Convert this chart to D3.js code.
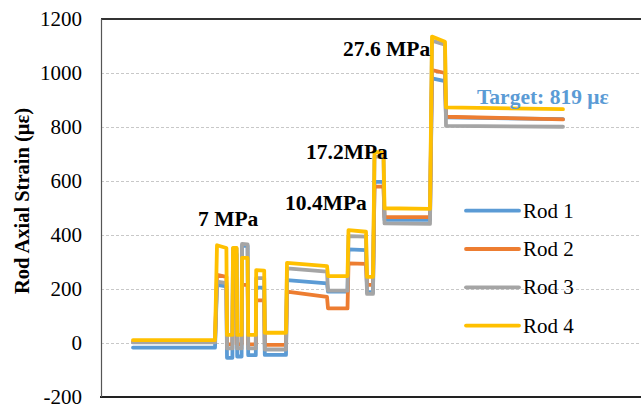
<!DOCTYPE html>
<html><head><meta charset="utf-8">
<script src="https://cdn.jsdelivr.net/npm/d3@7"></script>
<style>html,body{margin:0;padding:0;background:#fff;}svg{display:block;}</style>
</head><body>
<svg id="chart" width="641" height="407"></svg>
<script>
// ---- data (time in minutes, strain in με) ----
const segTimes = [[16,57],[58,62.7],[63,65.7],[66,67.8],[68.1,70.3],[70.5,73.3],[73.6,77.4],[77.6,81.6],[81.9,92.5],
  [93,113],[113.5,123.25],[123.75,132.5],[133,136],[136.75,141.25],[141.75,164.5],[165.5,172],[172.5,231]];
const rod1 = [[-17,-17],[215,210],[-55,-55],[330,330],[-50,-50],[360,360],[-45,-45],[205,205],[-44,-44],[233,221],[190,190],[347,344],[188,188],[597,597],[456,456],[980,970],[836,829]];
const rod2 = [[5,5],[252,245],[-5,-5],[240,240],[-5,-5],[215,215],[-5,-5],[158,158],[-7,-7],[190,171],[128,128],[295,293],[215,215],[579,579],[466,466],[1011,1000],[838,828]];
const rod3 = [[2,2],[227,222],[-20,-20],[350,350],[-20,-20],[367,365],[-20,-20],[240,240],[-24,-24],[276,264],[194,194],[396,394],[182,182],[690,690],[443,441],[1120,1105],[804,801]];
const rod4 = [[11,11],[362,352],[30,30],[352,352],[30,30],[315,315],[30,30],[270,268],[38,38],[297,285],[248,248],[418,412],[245,245],[708,705],[499,497],[1135,1116],[873,866]];
const seriesNames = ["Rod 1","Rod 2","Rod 3","Rod 4"];
const seriesColors = ["#5B9BD5","#ED7D31","#A5A5A5","#FFC000"];
const yTicks = [-200,0,200,400,600,800,1000,1200];
const annotations = [
  {text:"7 MPa", t:48.5, v:432},
  {text:"10.4MPa", t:92, v:492},
  {text:"17.2MPa", t:102.5, v:681},
  {text:"27.6 MPa", t:121, v:1064}
];
const targetLabel = {text:"Target: 819 με", t:188, v:887};

// ---- layout ----
const svg = d3.select("#chart");
const font = "'Liberation Serif','Times New Roman',serif";
const x = d3.scaleLinear().domain([0,270]).range([101,641]);
const y = d3.scaleLinear().domain([-200,1200]).range([397,19]);

// gridlines
svg.append("g").selectAll("line").data(yTicks.filter(d=>d>-200 && d<1200)).join("line")
  .attr("x1",101).attr("x2",641).attr("y1",d=>y(d)+0.5).attr("y2",d=>y(d)+0.5)
  .attr("stroke","#c8c8c8").attr("stroke-width",1).attr("stroke-dasharray","3,2");
// top and bottom lines
svg.append("line").attr("x1",101).attr("x2",641).attr("y1",y(1200)).attr("y2",y(1200))
  .attr("stroke","#333").attr("stroke-width",2);
svg.append("line").attr("x1",100).attr("x2",641).attr("y1",y(-200)).attr("y2",y(-200))
  .attr("stroke","#222").attr("stroke-width",2);
// left axis
svg.append("line").attr("x1",101.5).attr("x2",101.5).attr("y1",y(1200)).attr("y2",y(-200))
  .attr("stroke","#555").attr("stroke-width",1.2);

// tick labels
svg.append("g").selectAll("text").data(yTicks).join("text")
  .attr("x",82).attr("y",d=>y(d)).attr("dy","0.35em").attr("text-anchor","end")
  .attr("font-family",font).attr("font-size",21).attr("fill","#000").text(d=>d);

// axis title
svg.append("text").attr("transform","translate(29,201) rotate(-90)")
  .attr("text-anchor","middle").attr("font-family",font).attr("font-weight","bold")
  .attr("font-size",20.5).attr("fill","#000").text("Rod Axial Strain (με)");

// series
function toPoints(vals){
  const pts=[];
  vals.forEach((v,i)=>{pts.push([segTimes[i][0],v[0]]);pts.push([segTimes[i][1],v[1]]);});
  return pts;
}
const line = d3.line().x(d=>x(d[0])).y(d=>y(d[1]));
[rod1,rod2,rod3,rod4].forEach((s,i)=>{
  svg.append("path").datum(toPoints(s)).attr("d",line).attr("fill","none")
    .attr("stroke",seriesColors[i]).attr("stroke-width",3.8)
    .attr("stroke-linejoin","round").attr("stroke-linecap","round");
});

// annotations
svg.append("g").selectAll("text").data(annotations).join("text")
  .attr("x",d=>x(d.t)).attr("y",d=>y(d.v)).attr("font-family",font)
  .attr("font-weight","bold").attr("font-size",21.5).attr("fill","#000").text(d=>d.text);
svg.append("text").attr("x",x(targetLabel.t)).attr("y",y(targetLabel.v))
  .attr("font-family",font).attr("font-weight","bold").attr("font-size",21.5)
  .attr("fill","#5B9BD5").text(targetLabel.text);

// legend
const lg = svg.append("g").selectAll("g").data(seriesNames).join("g")
  .attr("transform",(d,i)=>`translate(466,${210.7+i*38.3})`);
lg.append("line").attr("x1",0).attr("x2",53).attr("stroke",(d,i)=>seriesColors[i])
  .attr("stroke-width",3.8).attr("stroke-linecap","round");
lg.append("text").attr("x",57).attr("dy","0.33em").attr("font-family",font)
  .attr("font-size",21).attr("fill","#000").text(d=>d);
</script>
</body></html>
